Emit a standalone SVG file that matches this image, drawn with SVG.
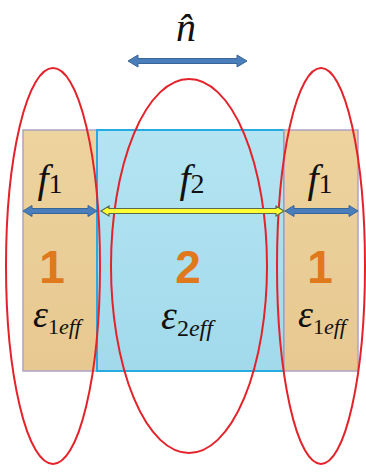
<svg xmlns="http://www.w3.org/2000/svg" width="366" height="472" viewBox="0 0 366 472">
<style>
.ell{fill:none;stroke:#e4222a;stroke-width:2}
.tan{stroke:#aea3c6;stroke-width:1.5}
.blu{stroke:#27a9e1;stroke-width:2}
.barr{fill:#4a7ebb;stroke:#3a6599;stroke-width:1}
.yarr{fill:#ffff33;stroke:#5a6a50;stroke-width:1.2}
.big{font-family:"Liberation Sans",Arial,sans-serif;font-weight:bold;font-size:46px;fill:#e0781c;text-anchor:middle}
.m{font-family:"Times New Roman","Liberation Serif","DejaVu Serif",serif;fill:#111;text-anchor:middle}
.it{font-style:italic}
.f{font-size:40px}
.fs{font-size:28px;font-style:normal}
.e{font-size:38px}
.es{font-size:22px}
</style>
<defs>
<linearGradient id="tg" x1="0" y1="0" x2="0" y2="1">
<stop offset="0" stop-color="#edd39e"/><stop offset="1" stop-color="#e7c890"/>
</linearGradient>
<linearGradient id="bg" x1="0" y1="0" x2="0" y2="1">
<stop offset="0" stop-color="#b4e4f2"/><stop offset="1" stop-color="#a2daeb"/>
</linearGradient>
</defs>
<g id="cell1-left">
<rect class="tan" x="23" y="130" width="74" height="241" fill="url(#tg)"/>
</g>
<g id="cell2">
<rect class="blu" x="97" y="130" width="187" height="241" fill="url(#bg)"/>
</g>
<g id="cell1-right">
<rect class="tan" x="284" y="130" width="74" height="241" fill="url(#tg)"/>
</g>
<g id="fields">
<ellipse class="ell" cx="53" cy="266" rx="47" ry="198"/>
<ellipse class="ell" cx="189" cy="266" rx="78" ry="187"/>
<ellipse class="ell" cx="321" cy="266" rx="44" ry="198"/>
</g>
<g id="connectors">
<polygon class="barr" points="128,61 138,55 138,58.5 237,58.5 237,55 247,61 237,67 237,63.5 138,63.5 138,67"/>
<polygon class="barr" points="23,211 32,205.5 32,208.5 88,208.5 88,205.5 97,211 88,216.5 88,213.5 32,213.5 32,216.5"/>
<polygon class="yarr" points="101,211 109,206 109,208.5 276,208.5 276,206 284,211 276,216 276,213.5 109,213.5 109,216"/>
<polygon class="barr" points="285,211 294,205.5 294,208.5 349,208.5 349,205.5 358,211 349,216.5 349,213.5 294,213.5 294,216.5"/>
</g>
<g id="labels">
<text class="m it" x="186" y="41" style="font-size:40px">n&#x302;</text>
<text class="m f" x="50" y="192"><tspan class="it">f</tspan><tspan class="fs" dy="1">1</tspan></text>
<text class="m f" x="192" y="192"><tspan class="it">f</tspan><tspan class="fs" dy="1">2</tspan></text>
<text class="m f" x="320" y="192"><tspan class="it">f</tspan><tspan class="fs" dy="1">1</tspan></text>
<text class="big" x="52" y="283">1</text>
<text class="big" x="188" y="283">2</text>
<text class="big" x="320" y="283">1</text>
<text class="m e" x="57" y="327"><tspan class="it">ε</tspan><tspan class="es" dy="7">1</tspan><tspan class="es it">eff</tspan></text>
<text class="m e" x="187" y="329" style="font-size:40px"><tspan class="it">ε</tspan><tspan class="es" dy="7" style="font-size:24px">2</tspan><tspan class="es it" style="font-size:24px">eff</tspan></text>
<text class="m e" x="322" y="327"><tspan class="it">ε</tspan><tspan class="es" dy="7">1</tspan><tspan class="es it">eff</tspan></text>
</g>
</svg>
